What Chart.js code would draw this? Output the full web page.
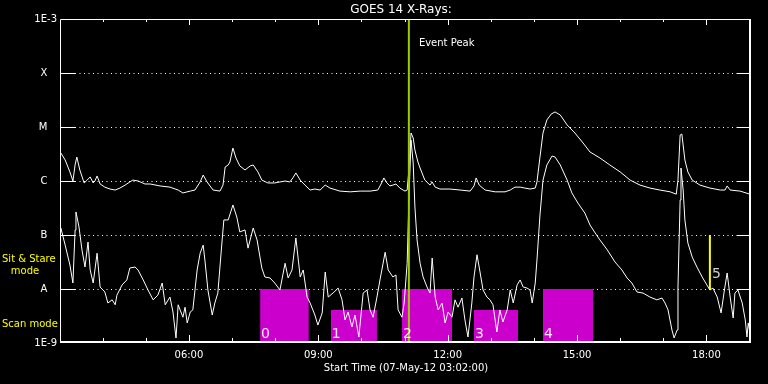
<!DOCTYPE html>
<html>
<head>
<meta charset="utf-8">
<title>GOES 14 X-Rays</title>
<script src="https://cdn.jsdelivr.net/npm/chart.js@4.4.1/dist/chart.umd.min.js"></script>
<style>
  html, body { margin: 0; padding: 0; background: #000; }
  #wrap { width: 768px; height: 384px; }
</style>
</head>
<body>
<div id="wrap"><canvas id="goes" width="768" height="384"></canvas></div>
<script>
/* ================= DATA ================= */
// time in decimal hours (UT, 07-May-12), flux in W/m^2
const axisStart = 3 + 2 / 60;   // 03:02
const axisEnd = 19 + 2 / 60;

const yTickValues = [1e-9, 1e-8, 1e-7, 1e-6, 1e-5, 1e-4, 1e-3];
const yTickLabels = ["1E-9", "A", "B", "C", "M", "X", "1E-3"];
const xTickHours = [4, 5, 6, 7, 8, 9, 10, 11, 12, 13, 14, 15, 16, 17, 18, 19];
const xLabelHours = [6, 9, 12, 15, 18];

// 1-8 A channel
const longTimes = [
  3.03, 3.13, 3.24, 3.31, 3.36, 3.40, 3.47, 3.57, 3.64, 3.71,
  3.78, 3.82, 3.87, 3.94, 4.05, 4.17, 4.29, 4.40, 4.52, 4.63,
  4.70, 4.82, 4.98, 5.10, 5.33, 5.56, 5.75, 5.86, 6.03, 6.14,
  6.26, 6.33, 6.42, 6.56, 6.72, 6.79, 6.84, 6.91, 6.95, 7.02,
  7.09, 7.18, 7.30, 7.42, 7.49, 7.60, 7.69, 7.83, 7.99, 8.11,
  8.23, 8.34, 8.41, 8.48, 8.58, 8.69, 8.81, 8.92, 9.04, 9.16,
  9.27, 9.50, 9.74, 9.97, 10.20, 10.38, 10.48, 10.52, 10.59, 10.66,
  10.73, 10.80, 10.89, 11.01, 11.06, 11.10, 11.15, 11.20, 11.24, 11.31,
  11.36, 11.47, 11.59, 11.64, 11.71, 11.82, 12.05, 12.29, 12.52, 12.61,
  12.66, 12.73, 12.87, 13.10, 13.33, 13.45, 13.56, 13.68, 13.79, 13.91,
  14.03, 14.07, 14.14, 14.21, 14.30, 14.40, 14.49, 14.61, 14.77, 14.95,
  15.14, 15.30, 15.53, 15.76, 16.00, 16.23, 16.46, 16.69, 16.92, 17.16,
  17.30, 17.34, 17.39, 17.43, 17.50, 17.57, 17.67, 17.85, 18.08, 18.32,
  18.43, 18.48, 18.55, 18.78, 19.01
];
const longFlux = [
  3.3e-6, 2.45e-6, 1.47e-6, 1.0e-6, 1.98e-6, 2.78e-6, 1.6e-6, 9.2e-7, 1.04e-6, 1.19e-6,
  9.2e-7, 1.0e-6, 1.24e-6, 8.8e-7, 7.7e-7, 7.1e-7, 6.8e-7, 7.4e-7, 8.4e-7, 9.6e-7,
  1.04e-6, 1.0e-6, 8.8e-7, 8.8e-7, 8.1e-7, 7.7e-7, 6.8e-7, 6.0e-7, 6.5e-7, 6.8e-7,
  9.6e-7, 1.29e-6, 9.6e-7, 6.8e-7, 6.5e-7, 8.4e-7, 1.82e-6, 1.98e-6, 2.25e-6, 4.08e-6,
  2.67e-6, 1.9e-6, 1.6e-6, 1.9e-6, 1.98e-6, 1.47e-6, 1.04e-6, 9.2e-7, 9.2e-7, 9.6e-7,
  1.0e-6, 9.6e-7, 1.14e-6, 1.41e-6, 1.04e-6, 8.4e-7, 6.8e-7, 7.1e-7, 6.8e-7, 8.4e-7,
  7.4e-7, 6.5e-7, 6.3e-7, 6.5e-7, 6.5e-7, 6.8e-7, 9.6e-7, 1.14e-6, 9.2e-7, 8.1e-7,
  8.4e-7, 8.8e-7, 7.4e-7, 6.5e-7, 6.8e-7, 1.6e-6, 7.74e-6, 6.26e-6, 3.75e-6, 2.25e-6,
  1.74e-6, 1.04e-6, 8.4e-7, 9.6e-7, 7.7e-7, 7.1e-7, 7.1e-7, 6.8e-7, 6.5e-7, 8.1e-7,
  1.14e-6, 8.4e-7, 6.8e-7, 6.3e-7, 6.3e-7, 6.8e-7, 7.7e-7, 7.7e-7, 7.4e-7, 7.1e-7,
  7.4e-7, 9.6e-7, 2.78e-6, 7.74e-6, 1.35e-5, 1.74e-5, 1.9e-5, 1.67e-5, 1.09e-5, 7.74e-6,
  5.05e-6, 3.44e-6, 2.67e-6, 1.98e-6, 1.47e-6, 1.04e-6, 8.4e-7, 7.4e-7, 6.8e-7, 6.3e-7,
  5.7e-7, 1.04e-6, 7.1e-6, 7.4e-6, 2.45e-6, 1.47e-6, 1.04e-6, 8.4e-7, 7.4e-7, 6.8e-7,
  6.8e-7, 8.1e-7, 6.8e-7, 6.5e-7, 5.7e-7
];

// 0.5-4 A channel
const shortTimes = [
  3.03, 3.13, 3.24, 3.31, 3.36, 3.38, 3.45, 3.52, 3.59, 3.66,
  3.71, 3.78, 3.87, 3.94, 4.05, 4.12, 4.22, 4.29, 4.33, 4.45,
  4.56, 4.63, 4.75, 4.82, 4.94, 5.05, 5.17, 5.28, 5.38, 5.45,
  5.56, 5.63, 5.70, 5.75, 5.86, 5.91, 5.96, 6.03, 6.09, 6.19,
  6.26, 6.33, 6.37, 6.44, 6.54, 6.60, 6.67, 6.77, 6.81, 6.91,
  7.02, 7.11, 7.18, 7.30, 7.37, 7.49, 7.58, 7.69, 7.76, 7.88,
  7.99, 8.11, 8.23, 8.30, 8.39, 8.48, 8.58, 8.65, 8.74, 8.81,
  8.92, 8.99, 9.09, 9.16, 9.23, 9.34, 9.46, 9.55, 9.62, 9.69,
  9.78, 9.85, 9.94, 10.04, 10.13, 10.20, 10.27, 10.36, 10.43, 10.55,
  10.62, 10.73, 10.80, 10.85, 10.94, 10.99, 11.06, 11.10, 11.15, 11.20,
  11.24, 11.29, 11.36, 11.43, 11.52, 11.59, 11.64, 11.71, 11.78, 11.87,
  11.94, 12.01, 12.10, 12.17, 12.24, 12.33, 12.40, 12.47, 12.56, 12.61,
  12.68, 12.73, 12.82, 12.91, 12.98, 13.05, 13.14, 13.21, 13.28, 13.38,
  13.45, 13.52, 13.61, 13.68, 13.75, 13.84, 13.91, 13.96, 14.03, 14.07,
  14.14, 14.21, 14.30, 14.42, 14.49, 14.61, 14.77, 14.88, 15.02, 15.18,
  15.30, 15.42, 15.53, 15.70, 15.88, 16.04, 16.16, 16.27, 16.39, 16.53,
  16.69, 16.85, 16.97, 17.04, 17.11, 17.20, 17.25, 17.32, 17.34, 17.39,
  17.41, 17.46, 17.50, 17.57, 17.67, 17.78, 17.90, 18.01, 18.08, 18.15,
  18.25, 18.34, 18.41, 18.48, 18.55, 18.62, 18.66, 18.73, 18.83, 18.90,
  18.94, 18.97, 19.01
];
const shortFlux = [
  1.35e-7, 6.5e-8, 2.78e-8, 1.29e-8, 1.24e-7, 2.67e-7, 1.41e-7, 5.3e-8, 2.55e-8, 7.4e-8,
  2.25e-8, 1.29e-8, 4.6e-8, 1.09e-8, 8.8e-9, 5.5e-9, 6.3e-9, 5.1e-9, 7.7e-9, 1.19e-8,
  1.47e-8, 2.45e-8, 2.55e-8, 2.25e-8, 1.47e-8, 9.6e-9, 6.3e-9, 7.7e-9, 1.29e-8, 5.1e-9,
  7.1e-9, 3.75e-9, 1.24e-9, 5.1e-9, 3.0e-9, 4.6e-9, 2.35e-9, 3.75e-9, 4.1e-9, 2.25e-8,
  4.6e-8, 6.5e-8, 3.44e-8, 9.6e-9, 3.3e-9, 5.5e-9, 8.4e-9, 8.1e-8, 1.9e-7, 1.9e-7,
  3.6e-7, 2.15e-7, 1.14e-7, 1.24e-7, 5.7e-8, 1.35e-7, 8.1e-8, 2.45e-8, 1.67e-8, 1.6e-8,
  1.29e-8, 9.6e-9, 3.0e-8, 1.6e-8, 2.25e-8, 8.8e-8, 1.67e-8, 2.25e-8, 7.1e-9, 5.5e-9,
  3.3e-9, 2.15e-9, 3.6e-9, 2.06e-8, 7.1e-9, 8.4e-9, 1.04e-8, 6.3e-9, 2.67e-9, 3.75e-9,
  1.98e-9, 3.3e-9, 1.29e-9, 8.4e-9, 9.6e-9, 4.1e-9, 3.0e-9, 7.1e-9, 1.47e-8, 4.8e-8,
  2.25e-8, 1.67e-8, 1.82e-8, 4.1e-9, 3.0e-9, 5.5e-9, 3.0e-8, 4.45e-7, 5.7e-6, 2.15e-6,
  3.3e-7, 8.1e-8, 3.0e-8, 1.67e-8, 1.09e-8, 8.4e-9, 3.75e-8, 7.1e-9, 4.1e-9, 5.5e-9,
  2.35e-9, 3.75e-9, 3.0e-9, 6.3e-9, 4.6e-9, 6.8e-9, 2.67e-9, 1.29e-9, 5.5e-9, 1.67e-8,
  4.3e-8, 2.55e-8, 9.6e-9, 7.1e-9, 6.3e-9, 5.1e-9, 1.6e-9, 4.1e-9, 2.45e-9, 4.1e-9,
  9.6e-9, 5.5e-9, 1.19e-8, 1.47e-8, 1.09e-8, 1.04e-8, 9.6e-9, 5.5e-9, 1.29e-8, 3.44e-8,
  2.35e-7, 1.04e-6, 1.98e-6, 2.9e-6, 2.78e-6, 1.98e-6, 1.04e-6, 6.0e-7, 3.9e-7, 2.55e-7,
  1.53e-7, 1.09e-7, 8.1e-8, 5.3e-8, 3.16e-8, 2.25e-8, 1.6e-8, 1.29e-8, 8.8e-9, 8.4e-9,
  7.1e-9, 6.3e-9, 6.8e-9, 5.5e-9, 4.1e-9, 1.74e-9, 1.24e-9, 1.74e-9, 1.09e-8, 4.45e-7,
  1.74e-6, 6.8e-7, 1.9e-7, 7.1e-8, 3.9e-8, 2.55e-8, 1.67e-8, 1.19e-8, 9.6e-9, 1.04e-8,
  7.1e-9, 3.6e-9, 8.8e-9, 1.98e-8, 7.1e-9, 2.9e-9, 8.4e-9, 9.6e-9, 5.5e-9, 2.67e-9,
  1.29e-9, 2.35e-9, 1.53e-9
];

// scan-mode windows
const scanStart = [7.65, 9.29, 10.94, 12.61, 14.21];
const scanEnd = [8.78, 10.36, 12.10, 13.63, 15.37];
const scanTop = [1e-8, 4.1e-9, 1e-8, 4.1e-9, 1e-8];
const scanLabels = ["0", "1", "2", "3", "4"];

// event peak and sit & stare marker
const eventPeak = 11.10;
const stareTime = 18.08;
const stareRange = [1e-8, 1e-7];
const stareLabel = "5";

/* ================= HELPERS ================= */
const FONT = "'DejaVu Sans', sans-serif";

function hhmm(h) {
  return String(h).padStart(2, "0") + ":00";
}

function pairs(xs, ys) {
  return xs.map((x, i) => ({ x, y: ys[i] }));
}

/* ================= IDL STYLE FRAME ================= */
const idlFrame = {
  id: "idlFrame",
  beforeDraw(chart) {
    const ctx = chart.ctx;
    ctx.save();
    ctx.fillStyle = "#000";
    ctx.fillRect(0, 0, chart.width, chart.height);
    ctx.restore();
  },
  beforeDatasetsDraw(chart) {
    const { ctx, chartArea: a, scales } = chart;
    ctx.save();
    ctx.strokeStyle = "#fff";
    ctx.lineWidth = 1;
    ctx.setLineDash([1, 3.5]);
    yTickValues.slice(1, -1).forEach(v => {
      const y = Math.round(scales.y.getPixelForValue(v)) + 0.5;
      ctx.beginPath();
      ctx.moveTo(a.left + 14, y);
      ctx.lineTo(a.right - 14, y);
      ctx.stroke();
    });
    ctx.restore();
  },
  afterDatasetsDraw(chart) {
    const { ctx, chartArea: a, scales } = chart;
    const xs = scales.x, ys = scales.y;
    ctx.save();
    ctx.strokeStyle = "#fff";
    ctx.fillStyle = "#fff";

    // frame
    ctx.lineWidth = 1;
    ctx.beginPath();
    ctx.moveTo(a.left - 0.5, a.bottom);
    ctx.lineTo(a.left - 0.5, a.top + 0.5);
    ctx.lineTo(a.right, a.top + 0.5);
    ctx.stroke();
    ctx.lineWidth = 2;
    ctx.beginPath();
    ctx.moveTo(a.right - 1, a.top);
    ctx.lineTo(a.right - 1, a.bottom - 1);
    ctx.lineTo(a.left - 1, a.bottom - 1);
    ctx.stroke();

    // y ticks, both sides
    ctx.lineWidth = 1;
    yTickValues.slice(1, -1).forEach(v => {
      const y = Math.round(ys.getPixelForValue(v)) + 0.5;
      ctx.beginPath();
      ctx.moveTo(a.left, y); ctx.lineTo(a.left + 14, y);
      ctx.moveTo(a.right - 14, y); ctx.lineTo(a.right, y);
      ctx.stroke();
    });

    // x ticks, top and bottom
    xTickHours.forEach(h => {
      const x = Math.round(xs.getPixelForValue(h)) + 0.5;
      const major = xLabelHours.includes(h);
      ctx.beginPath();
      ctx.moveTo(x, a.bottom - 1); ctx.lineTo(x, a.bottom - (major ? 8 : 5));
      ctx.moveTo(x, a.top); ctx.lineTo(x, a.top + (major ? 6 : 3));
      ctx.stroke();
    });

    // scan window numbers
    ctx.font = "14px " + FONT;
    ctx.fillStyle = "#ffe6ff";
    ctx.textBaseline = "alphabetic";
    ctx.textAlign = "left";
    scanLabels.forEach((t, i) => {
      ctx.fillText(t, xs.getPixelForValue(scanStart[i]) + 1, a.bottom - 5);
    });

    // sit & stare number
    ctx.fillStyle = "#d0d0d0";
    ctx.fillText(stareLabel, xs.getPixelForValue(stareTime) + 2,
      ys.getPixelForValue(stareRange[0]) - 11);

    // event peak label
    ctx.fillStyle = "#fff";
    ctx.font = "10px " + FONT;
    ctx.textBaseline = "middle";
    ctx.fillText("Event Peak", xs.getPixelForValue(eventPeak) + 10, 43);

    // title
    ctx.font = "12px " + FONT;
    ctx.textAlign = "center";
    ctx.fillText("GOES 14 X-Rays:", 401, 10);

    // mode labels
    ctx.fillStyle = "#ffff00";
    ctx.font = "10px " + FONT;
    ctx.textAlign = "left";
    ctx.fillText("Sit & Stare", 2, 259);
    ctx.textAlign = "center";
    ctx.fillText("mode", 25, 271);
    ctx.textAlign = "left";
    ctx.fillText("Scan mode", 2, 324);
    ctx.restore();
  }
};

/* ================= CHART ================= */
const scanSets = scanStart.map((s, i) => ({
  data: pairs([s, scanEnd[i]], [scanTop[i], scanTop[i]]),
  borderWidth: 0,
  backgroundColor: "#cc00cc",
  fill: "start",
  order: 5
}));

new Chart(document.getElementById("goes"), {
  type: "line",
  data: {
    datasets: [
      {
        label: "Event Peak",
        data: pairs([eventPeak, eventPeak], [1e-9, 1e-3]),
        borderColor: "#9acd00",
        borderWidth: 2,
        order: 0
      },
      {
        label: "Sit & Stare",
        data: pairs([stareTime, stareTime], stareRange),
        borderColor: "#ffff00",
        borderWidth: 2,
        order: 0
      },
      {
        label: "1-8 A",
        data: pairs(longTimes, longFlux),
        borderColor: "#fff",
        borderWidth: 1,
        order: 1
      },
      {
        label: "0.5-4 A",
        data: pairs(shortTimes, shortFlux),
        borderColor: "#fff",
        borderWidth: 1,
        order: 1
      },
      ...scanSets
    ]
  },
  options: {
    responsive: false,
    animation: false,
    devicePixelRatio: 1,
    events: [],
    elements: { point: { radius: 0 }, line: { tension: 0 } },
    layout: { padding: { top: 19, right: 17, left: 0, bottom: 0 } },
    plugins: { legend: { display: false }, tooltip: { enabled: false } },
    scales: {
      x: {
        type: "linear",
        min: axisStart,
        max: axisEnd,
        grid: { display: false, drawTicks: false, tickLength: 0 },
        border: { display: false },
        afterBuildTicks: s => { s.ticks = xTickHours.map(h => ({ value: h })); },
        afterFit: s => { s.height = 41; },
        ticks: {
          autoSkip: false,
          maxRotation: 0,
          padding: 6,
          color: "#fff",
          font: { family: FONT, size: 10 },
          callback: v => xLabelHours.includes(v) ? hhmm(v) : ""
        },
        title: {
          display: true,
          text: "Start Time (07-May-12 03:02:00)",
          color: "#fff",
          font: { family: FONT, size: 10 },
          padding: { top: 0, bottom: 10 }
        }
      },
      y: {
        type: "logarithmic",
        min: 1e-9,
        max: 1e-3,
        grid: { display: false, drawTicks: false, tickLength: 0 },
        border: { display: false },
        afterBuildTicks: s => { s.ticks = yTickValues.map(v => ({ value: v })); },
        afterFit: s => { s.width = 61; },
        ticks: {
          autoSkip: false,
          padding: 4,
          color: "#fff",
          font: { family: FONT, size: 10 },
          // class letters sit a little left of the numeric labels
          callback: (v, i) => yTickLabels[i].length === 1 ? yTickLabels[i] + "   " : yTickLabels[i]
        }
      }
    }
  },
  plugins: [idlFrame]
});
</script>
</body>
</html>
